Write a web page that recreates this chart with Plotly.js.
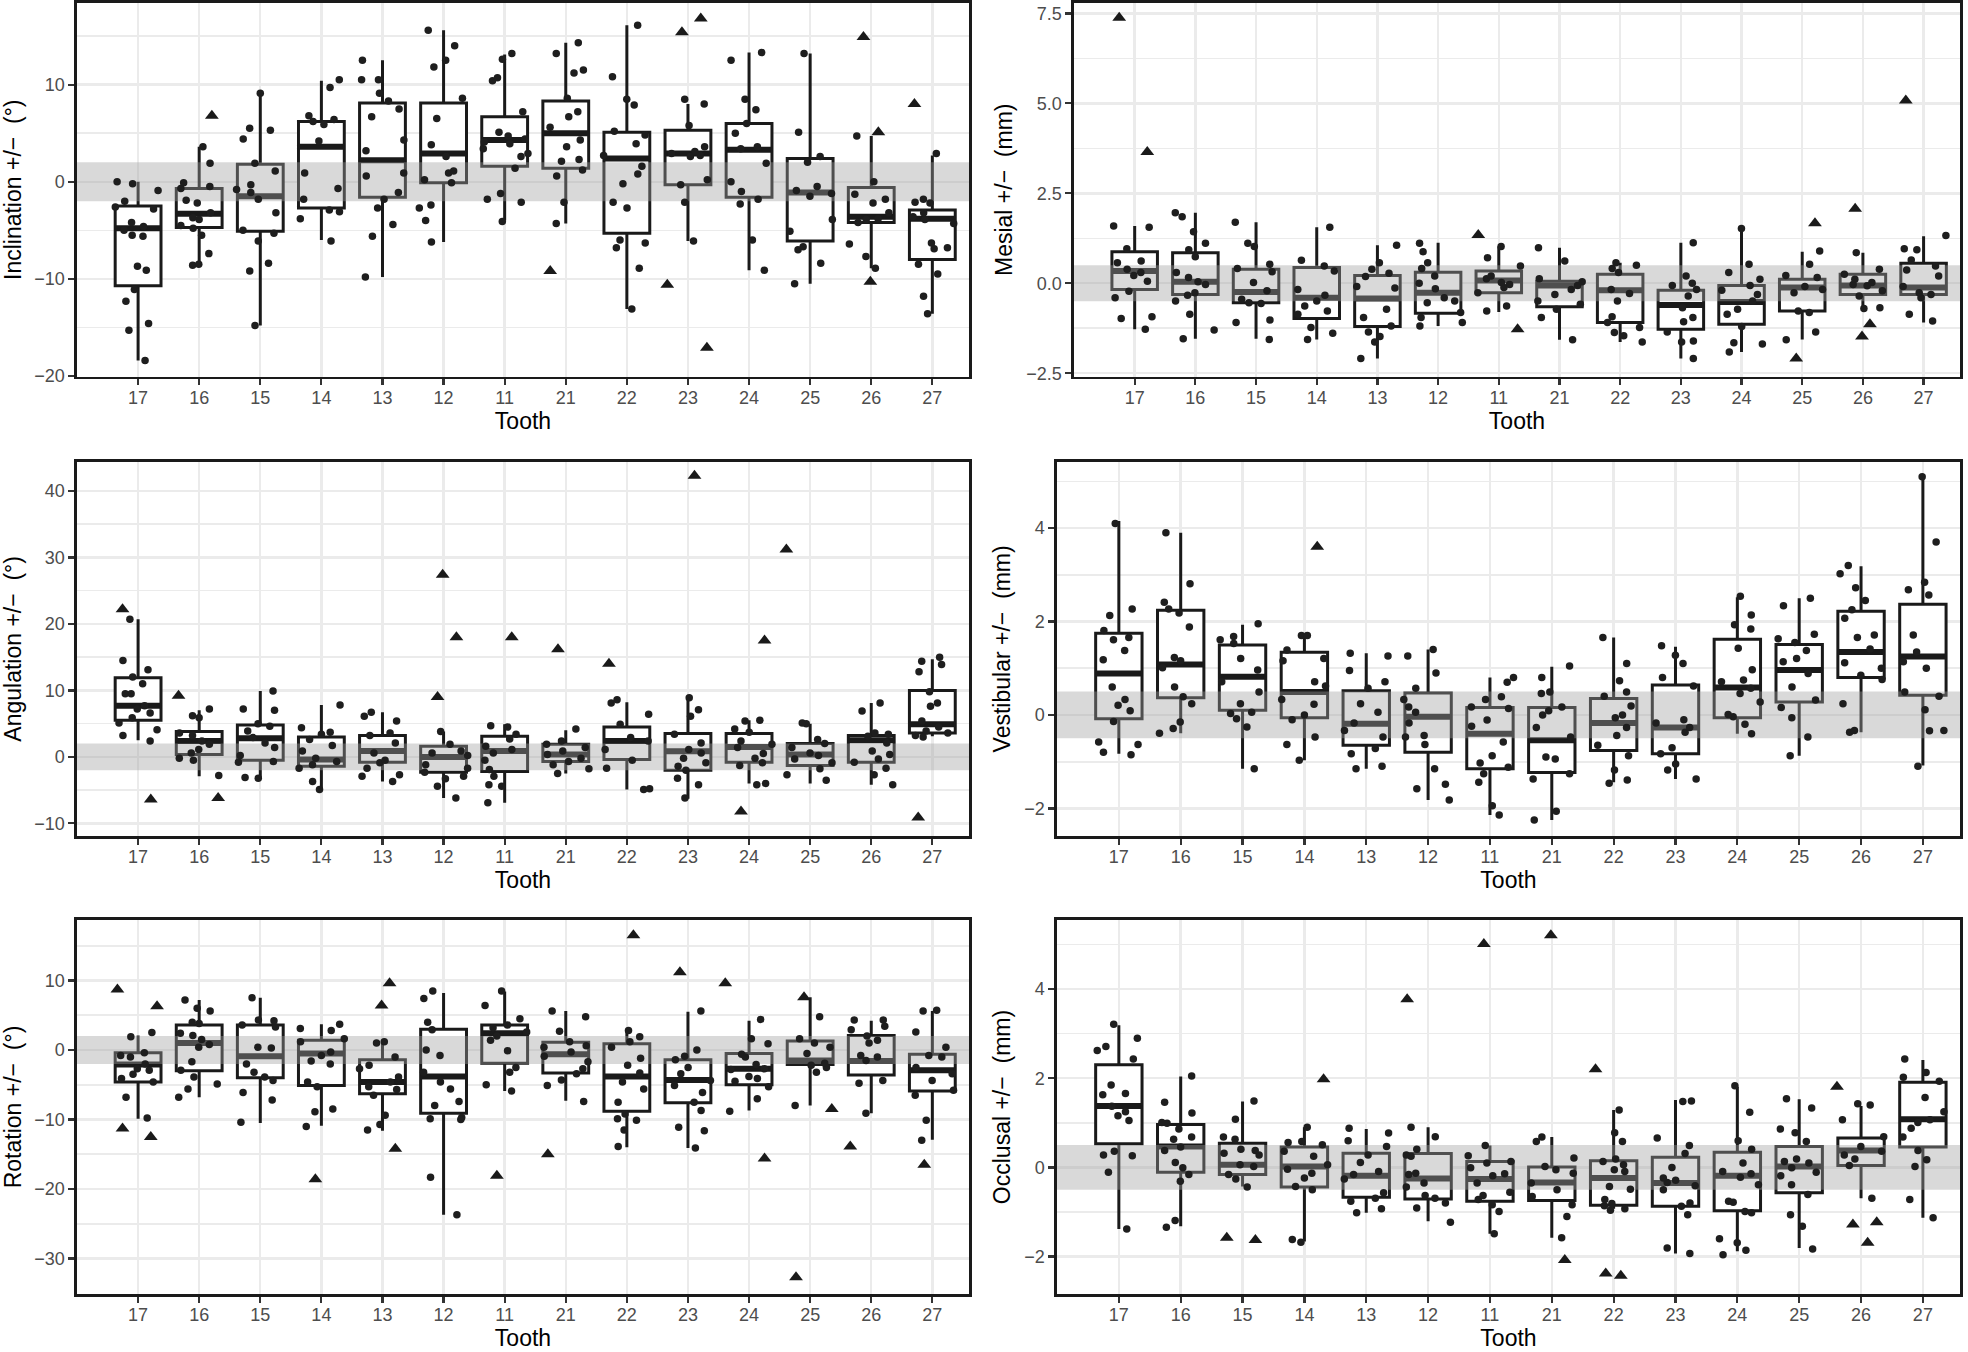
<!DOCTYPE html>
<html>
<head>
<meta charset="utf-8">
<script src="https://cdn.plot.ly/plotly-3.0.1.min.js"></script>
<style>html,body{margin:0;padding:0;background:#fff}#chart{width:1968px;height:1352px}</style>
</head>
<body>
<div id="chart"></div>
<script>
const teeth = ['17','16','15','14','13','12','11','21','22','23','24','25','26','27'];

// ---------- Inclination (°) ----------
const inclinationQ1  = [-10.7,-4.7,-5.1,-2.7,-1.6,-0.1,1.6,1.4,-5.3,-0.3,-1.6,-6.1,-4.2,-8.0];
const inclinationMed = [-4.8,-3.3,-1.5,3.6,2.2,2.9,4.3,5.0,2.4,2.9,3.3,-1.1,-3.6,-3.8];
const inclinationQ3  = [-2.5,-0.7,1.8,6.2,8.1,8.1,6.7,8.3,5.1,5.3,6.0,2.4,-0.6,-2.9];
const inclinationLo  = [-18.4,-8.6,-14.8,-6.0,-9.8,-6.2,-4.0,-4.3,-13.1,-6.1,-9.1,-10.5,-8.9,-13.6];
const inclinationHi  = [0,3.6,9.1,10.4,12.5,15.6,13.1,14.3,16.1,8.0,13.3,13.2,4.7,2.7];
const inclinationPts = [
  [0,-0.2,-0.9,-2.0,-2.6,-2.8,-4.2,-4.6,-5.0,-5.5,-5.6,-8.7,-9.1,-11.1,-12.3,-14.6,-15.3,-18.4],
  [3.6,1.9,-0.1,-0.5,-0.7,-1.9,-2.2,-3.2,-3.7,-3.9,-4.5,-4.8,-5.5,-7.4,-8.5,-8.6],
  [9.1,5.5,5.3,4.4,1.9,1.1,-0.3,-0.8,-1.1,-1.8,-3.2,-5.0,-5.3,-6.1,-8.4,-9.2,-14.8],
  [10.5,9.7,6.8,6.4,6.2,5.9,4.2,0.9,-0.7,-1.8,-2.9,-3.1,-3.8,-6.1],
  [12.5,10.5,10.5,9.1,8.3,7.5,6.7,4.3,3.2,0.9,0.6,-1.1,-1.8,-2.7,-4.4,-5.6,-9.8],
  [15.6,14.0,12.5,11.8,8.6,6.5,3.8,2.6,1.1,0.9,0.2,-0.1,-2.4,-2.7,-4.0,-6.2],
  [13.2,12.6,10.7,10.4,7.2,5.1,4.7,4.4,4.1,3.9,3.4,2.9,2.6,1.4,-1.2,-1.8,-2.1,-4.1],
  [14.3,13.2,11.5,11.2,8.6,7.2,6.7,5.6,4.3,3.6,2.3,2.1,1.2,0.6,-2.1,-4.3],
  [16.1,10.8,8.5,7.9,5.2,4.8,3.9,2.7,1.6,0.8,-0.2,-2.1,-2.7,-6.0,-6.3,-6.8,-8.9,-13.1],
  [8.5,8.0,5.8,3.6,3.1,2.9,2.7,2.6,0.2,-0.3,-2.1,-6.1],
  [13.3,12.5,8.5,7.4,6.0,5.0,3.6,3.4,1.9,0.0,-1.0,-1.8,-2.3,-6.0,-9.1],
  [13.2,5.1,2.6,2.0,-0.5,-0.9,-1.2,-1.5,-3.9,-5.1,-6.7,-7.0,-8.4,-10.5],
  [4.7,0.0,-1.3,-1.8,-2.2,-3.2,-3.8,-3.9,-4.2,-6.4,-7.7,-8.9],
  [2.9,-1.8,-2.1,-2.2,-3.2,-3.6,-3.9,-4.3,-6.3,-6.8,-6.9,-8.5,-9.5,-11.8,-13.6]
];
const inclinationOut = [[],[6.8],[],[],[],[],[],[-9.2],[],[-10.6,-17.1,15.4,16.8],[],[],[14.9,5.1,-10.3],[8.0]];

// ---------- Mesial (mm) ----------
const mesialQ1  = [-0.17,-0.31,-0.54,-0.98,-1.20,-0.83,-0.26,-0.65,-1.09,-1.28,-1.14,-0.77,-0.31,-0.31];
const mesialMed = [0.34,0.04,-0.24,-0.40,-0.42,-0.26,0.08,-0.06,-0.19,-0.60,-0.52,-0.12,-0.06,-0.12];
const mesialQ3  = [0.88,0.85,0.39,0.44,0.22,0.31,0.34,0.06,0.25,-0.19,-0.06,0.11,0.25,0.56];
const mesialLo  = [-1.28,-1.54,-1.54,-1.56,-2.09,-1.19,-0.80,-1.57,-1.63,-2.09,-1.91,-1.56,-0.68,-1.09];
const mesialHi  = [1.59,1.96,1.70,1.56,1.06,1.13,1.02,0.99,0.57,1.13,1.52,0.88,0.85,1.31];
const mesialPts = [
  [1.56,1.59,0.96,0.62,0.57,0.39,0.30,0.22,0.06,-0.22,-0.40,-0.93,-0.98,-1.28],
  [1.96,1.85,1.43,1.11,0.93,0.74,0.30,0.16,0.04,-0.03,-0.26,-0.33,-0.49,-0.86,-1.30,-1.54],
  [1.70,1.11,1.02,0.53,0.41,0.32,0.02,-0.21,-0.44,-0.54,-0.56,-1.02,-1.09,-1.56],
  [1.56,0.64,0.48,0.34,-0.17,-0.33,-0.49,-0.63,-0.77,-0.86,-1.23,-1.39,-1.56],
  [1.06,0.57,0.39,0.28,0.19,-0.09,-0.13,-0.72,-0.95,-1.19,-1.35,-1.48,-1.63,-2.09],
  [1.11,0.88,0.57,0.41,0.20,0.0,-0.15,-0.40,-0.49,-0.54,-0.81,-0.95,-1.09,-1.19],
  [1.02,0.71,0.48,0.20,0.13,0.02,-0.03,-0.12,-0.26,-0.63,-0.77],
  [0.99,0.62,0.13,0.04,-0.06,-0.17,-0.31,-0.49,-0.58,-0.72,-0.95,-1.57],
  [0.57,0.50,0.41,0.30,-0.17,-0.28,-0.49,-0.93,-1.09,-1.23,-1.37,-1.46,-1.63],
  [1.13,0.20,0.0,-0.06,-0.17,-0.35,-0.68,-0.95,-1.07,-1.35,-1.60,-1.63,-2.09],
  [1.52,0.53,0.30,0.11,-0.06,-0.19,-0.31,-0.49,-0.72,-0.86,-1.20,-1.65,-1.69,-1.91],
  [0.90,0.53,0.22,0.16,-0.09,-0.17,-0.26,-0.77,-0.81,-1.35,-1.57],
  [0.85,0.39,0.25,0.11,0.02,-0.03,-0.07,-0.21,-0.35,-0.68,-0.70],
  [1.33,0.96,0.93,0.65,0.48,0.37,0.20,-0.09,-0.26,-0.31,-0.40,-0.86,-1.05]
];
const mesialOut = [[7.38,3.65],[],[],[],[],[],[1.34,-1.28],[],[],[],[],[1.67,-2.09],[2.07,-1.14,-1.48],[5.08]];

// ---------- Angulation (°) ----------
const angulationQ1  = [5.5,0.35,-0.5,-1.4,-0.8,-2.3,-2.2,-0.7,-0.4,-2.0,-0.8,-1.3,-0.8,3.6];
const angulationMed = [7.7,2.4,2.8,-0.4,0.9,0,0.9,0.35,2.4,0.85,1.5,0.35,2.5,4.9];
const angulationQ3  = [11.9,3.8,4.8,3.0,3.2,1.6,3.1,1.9,4.5,3.5,3.5,2.0,3.2,10.0];
const angulationLo  = [2.5,-2.9,-3.2,-4.9,-3.7,-6.2,-6.9,-2.5,-4.9,-6.3,-4.0,-4.0,-4.2,3.1];
const angulationHi  = [20.7,7.0,9.9,7.8,6.7,3.8,4.9,4.0,8.2,8.9,5.5,5.0,8.1,14.7];
const angulationPts = [
  [20.7,14.5,13.1,12.0,11.0,9.5,9.5,7.7,7.2,6.6,5.9,5.1,4.1,3.2,2.4],
  [7.2,6.2,5.9,3.6,3.2,2.4,1.9,1.1,0.6,-0.2,-0.5,-2.8],
  [9.9,7.2,7.0,5.0,4.6,3.9,2.9,2.1,1.4,0.2,-0.7,-0.8,-3.1,-3.2],
  [7.8,4.4,3.7,3.4,2.6,1.7,0.9,-0.2,-0.7,-1.2,-1.7,-3.7,-4.9],
  [6.7,6.1,5.4,3.6,3.2,2.1,0.6,-0.5,-0.9,-1.7,-2.7,-2.9,-3.7],
  [3.8,1.9,0.9,0.6,0.2,-1.2,-1.7,-2.3,-2.9,-3.3,-4.4,-6.2],
  [4.7,4.5,3.4,2.7,1.6,1.1,0.6,-0.5,-1.9,-2.9,-4.2,-4.4,-6.9],
  [4.2,2.4,1.9,1.4,0.9,0.35,-0.2,-0.7,-1.2,-1.8,-2.5],
  [8.6,8.1,6.4,4.9,2.9,2.4,1.1,-0.5,-1.7,-4.8,-4.9],
  [8.9,7.1,6.1,3.4,2.1,1.1,0.6,-0.2,-0.9,-1.4,-2.0,-3.2,-4.2,-6.2],
  [5.5,5.4,4.2,3.7,2.4,1.9,1.4,0.5,-0.2,-0.9,-1.3,-4.0,-4.2],
  [5.0,5.1,2.6,2.0,1.4,0.6,0.2,-0.3,-0.9,-1.8,-2.7,-3.5],
  [8.1,6.9,3.6,3.4,3.1,2.1,0.9,0.35,-0.3,-0.8,-1.7,-2.7,-4.2],
  [15.0,14.4,13.9,12.8,9.8,8.1,7.6,5.4,4.5,3.9,3.6,3.2,3.0]
];
const angulationOut = [[22.2,-6.4],[9.2,-6.2],[],[],[],[27.4,18.0,9.0],[18.0],[16.2],[14.0],[42.3],[17.5,-8.2],[31.2],[],[-9.1]];

// ---------- Vestibular (mm) ----------
const vestibularQ1  = [-0.08,0.37,0.10,-0.06,-0.65,-0.80,-1.15,-1.23,-0.76,-0.83,-0.06,0.28,0.80,0.42];
const vestibularMed = [0.89,1.08,0.82,0.49,-0.19,-0.04,-0.40,-0.54,-0.17,-0.27,0.59,0.96,1.35,1.25];
const vestibularQ3  = [1.75,2.24,1.50,1.34,0.52,0.47,0.16,0.16,0.35,0.64,1.62,1.51,2.22,2.37];
const vestibularLo  = [-0.83,-0.39,-1.15,-0.97,-1.15,-1.82,-2.14,-2.25,-1.44,-1.37,-0.40,-0.87,-0.37,-1.08];
const vestibularHi  = [4.15,3.90,1.93,1.68,1.32,1.40,0.80,1.03,1.66,1.46,2.52,2.50,3.18,5.08];
const vestibularPts = [
  [4.1,2.27,2.13,1.81,1.66,1.61,1.38,1.18,0.60,0.33,0.21,0.09,-0.14,-0.58,-0.63,-0.80,-0.85],
  [3.9,2.81,2.41,2.27,2.18,1.88,1.23,1.16,1.01,0.60,0.39,0.24,-0.15,-0.29,-0.39],
  [1.95,1.68,1.61,1.53,1.21,0.96,0.71,0.49,0.24,0.06,0.03,-0.08,-0.26,-1.15],
  [1.70,1.70,1.39,1.21,1.16,0.71,0.62,0.33,0.23,0.0,-0.10,-0.47,-0.63,-0.97],
  [1.32,1.26,0.95,0.71,0.57,0.24,0.06,-0.17,-0.33,-0.47,-0.72,-0.83,-1.10,-1.15],
  [1.40,1.26,0.90,0.57,0.33,0.17,0.06,-0.17,-0.44,-0.47,-0.63,-1.15,-1.48,-1.58,-1.82],
  [0.80,0.70,0.39,0.33,0.17,0.14,-0.11,-0.24,-0.58,-0.87,-1.03,-1.12,-1.26,-1.44,-1.94,-2.14],
  [1.05,0.80,0.49,0.46,0.17,0.09,0.0,-0.27,-0.47,-0.90,-0.94,-1.26,-1.37,-2.06,-2.25],
  [1.66,1.10,0.73,0.49,0.40,0.19,0.0,-0.06,-0.27,-0.44,-0.65,-0.87,-1.18,-1.39,-1.46],
  [1.48,1.28,1.10,0.80,0.62,-0.10,-0.17,-0.27,-0.37,-0.70,-0.83,-1.05,-1.18,-1.37],
  [2.54,2.14,1.93,1.84,1.43,0.97,0.75,0.71,0.57,0.46,0.28,0.01,-0.04,-0.20,-0.40],
  [2.50,2.34,1.73,1.63,1.55,1.38,1.21,1.14,0.89,0.60,0.32,0.16,-0.06,-0.47,-0.87],
  [3.20,3.02,2.72,2.45,2.25,2.07,1.71,1.66,1.41,1.12,1.00,0.85,0.76,0.24,-0.33,-0.37],
  [5.10,3.70,2.84,2.68,2.57,1.71,1.35,1.14,1.00,0.49,0.40,0.11,-0.33,-0.34,-1.10]
];
const vestibularOut = [[],[],[],[3.60],[],[],[],[],[],[],[],[],[],[]];

// ---------- Rotation (°) ----------
const rotationQ1  = [-4.6,-3.0,-4.0,-5.1,-6.3,-9.1,-1.9,-3.3,-8.8,-7.6,-5.0,-2.1,-3.6,-5.9];
const rotationMed = [-2.1,1.0,-0.9,-0.5,-4.6,-3.8,2.4,-0.6,-3.8,-4.3,-2.7,-1.5,-1.6,-2.9];
const rotationQ3  = [-0.4,3.6,3.6,1.4,-1.4,3.0,3.6,1.1,0.9,-1.4,-0.5,1.3,2.1,-0.6];
const rotationLo  = [-9.9,-6.8,-10.5,-10.9,-11.6,-23.7,-5.9,-7.3,-14.0,-14.1,-8.7,-8.0,-9.1,-12.9];
const rotationHi  = [2.1,7.2,7.5,3.7,1.2,8.2,8.4,5.6,2.9,5.5,4.2,7.6,4.2,5.6];
const rotationPts = [
  [2.5,1.9,-0.4,-0.8,-1.0,-2.0,-2.7,-2.9,-3.5,-4.1,-4.6,-6.8,-9.8],
  [7.2,6.0,5.6,4.0,3.8,2.4,2.1,1.5,0.8,0.4,-1.7,-2.9,-3.9,-4.9,-5.6,-6.8],
  [7.5,4.3,4.2,3.6,3.3,0.4,0.3,-2.0,-3.2,-3.9,-4.4,-6.1,-7.2,-10.4],
  [3.7,3.1,2.8,1.6,1.2,-0.3,-0.8,-1.6,-2.0,-4.6,-5.3,-8.5,-8.9,-11.0],
  [1.2,1.0,-1.0,-2.2,-2.7,-3.9,-4.6,-5.3,-5.7,-6.5,-9.4,-10.7,-11.5],
  [8.5,7.4,4.0,2.9,0.0,-0.8,-3.2,-4.6,-5.6,-7.4,-8.0,-9.7,-9.9,-10.0,-18.3,-23.7],
  [8.5,6.4,4.5,3.6,3.2,2.6,2.0,1.4,-0.1,-2.5,-3.2,-5.0,-5.9],
  [5.6,4.8,2.7,1.2,0.6,0.4,-0.3,-0.9,-1.7,-2.7,-3.4,-4.3,-5.1,-7.4],
  [2.8,1.9,1.2,0.4,-1.2,-2.2,-3.3,-4.6,-5.6,-7.5,-9.2,-9.9,-10.1,-11.5,-13.9],
  [5.6,0.0,-0.9,-1.4,-2.5,-3.4,-4.4,-5.1,-6.1,-7.5,-8.7,-11.1,-11.6,-14.1],
  [4.4,1.6,0.9,-0.6,-1.0,-2.1,-2.7,-2.8,-3.8,-4.1,-4.5,-5.3,-7.0,-8.8],
  [4.8,1.6,1.0,0.4,-0.5,-1.9,-2.2,-2.5,-3.2,-8.0],
  [4.3,4.3,3.4,2.9,2.0,1.4,1.0,-0.8,-1.0,-1.5,-4.4,-4.8,-9.1],
  [5.7,5.6,2.6,0.4,-0.8,-1.0,-2.5,-3.4,-4.4,-5.8,-6.5,-10.1,-13.0]
];
const rotationOut = [[6.3,8.7,-12.5,-11.3],[],[],[-18.6],[9.6,6.4,-14.2],[],[-18.1],[-15.0],[16.5],[11.2],[9.6,-15.6],[7.6,-8.5,-32.7],[-13.9],[-16.5]];

// ---------- Occlusal (mm) ----------
const occlusalQ1  = [0.53,-0.11,-0.16,-0.44,-0.67,-0.71,-0.76,-0.74,-0.85,-0.87,-0.97,-0.57,0.04,0.46];
const occlusalMed = [1.38,0.47,0.06,0.02,-0.19,-0.25,-0.26,-0.34,-0.24,-0.35,-0.19,0.02,0.38,1.08];
const occlusalQ3  = [2.30,0.96,0.54,0.46,0.32,0.31,0.13,0.01,0.15,0.23,0.34,0.47,0.66,1.91];
const occlusalLo  = [-1.38,-1.32,-0.43,-1.66,-1.02,-1.21,-1.49,-1.58,-0.93,-1.93,-1.88,-1.81,-0.69,-1.13];
const occlusalHi  = [3.19,2.04,1.48,0.90,0.86,0.90,0.49,0.68,1.29,1.51,1.81,1.53,1.38,2.41];
const occlusalPts = [
  [3.21,2.90,2.71,2.62,2.43,1.85,1.66,1.63,1.37,1.25,1.16,1.05,0.36,0.28,0.26,-0.11,-1.38],
  [2.05,1.46,1.22,1.01,0.99,0.86,0.68,0.63,0.46,0.38,0.11,-0.01,-0.16,-0.31,-1.19,-1.34],
  [1.49,1.08,0.68,0.63,0.41,0.38,0.32,0.28,0.06,0.02,-0.16,-0.26,-0.44],
  [0.90,0.58,0.56,0.51,0.36,0.25,0.06,-0.04,-0.13,-0.24,-0.43,-0.50,-1.62,-1.68],
  [0.88,0.77,0.60,0.47,0.28,0.11,-0.09,-0.16,-0.26,-0.57,-0.69,-0.76,-0.93,-1.02],
  [0.90,0.69,0.41,0.28,0.25,-0.13,-0.16,-0.35,-0.44,-0.63,-0.69,-0.80,-0.91,-1.23],
  [0.49,0.26,0.13,0.10,-0.01,-0.14,-0.19,-0.35,-0.56,-0.63,-0.72,-0.84,-0.99,-1.49],
  [0.68,0.58,0.21,0.02,-0.05,-0.13,-0.35,-0.50,-0.65,-0.84,-1.10,-1.58],
  [1.29,0.78,0.58,0.19,0.13,0.06,-0.05,-0.09,-0.43,-0.49,-0.72,-0.81,-0.86,-0.93,-0.96],
  [1.49,1.48,0.66,0.49,0.31,0.0,-0.24,-0.29,-0.34,-0.41,-0.50,-0.80,-0.87,-1.06,-1.81,-1.93],
  [1.83,1.24,0.60,0.41,0.10,-0.09,-0.14,-0.22,-0.39,-0.76,-0.78,-0.99,-1.02,-1.60,-1.69,-1.86,-1.96],
  [1.54,1.33,0.86,0.78,0.58,0.19,0.13,0.10,-0.01,-0.11,-0.19,-0.39,-0.61,-1.06,-1.32,-1.83],
  [1.43,1.40,1.07,0.69,0.47,0.36,0.28,0.19,0.04,-0.69],
  [2.43,2.13,2.02,1.93,1.57,1.25,1.07,1.01,0.88,0.68,0.38,0.17,0.02,-0.72,-1.13]
];
const occlusalOut = [[],[],[-1.58,-1.63],[1.98],[],[3.77],[5.01],[5.21,-2.08],[2.20,-2.43,-2.38],[],[],[],[1.81,-1.23,-1.69,-1.28],[]];

// ---------- panel configuration (layout / style) ----------
const W = 1968, H = 1352;
const FONT = '"Liberation Sans", Arial, Helvetica, sans-serif';
const XR = [-1, 13.6];
const panels = [
  {title:'Inclination +/−\u00a0 (°)', q1:inclinationQ1, med:inclinationMed, q3:inclinationQ3, lo:inclinationLo, hi:inclinationHi, pts:inclinationPts, out:inclinationOut,
   band:2, range:[-20.05,18.4], dtick:10, minor:5, fmt:'', box:{l:77,r:969,t:3,b:376.5}},
  {title:'Mesial +/−\u00a0 (mm)', q1:mesialQ1, med:mesialMed, q3:mesialQ3, lo:mesialLo, hi:mesialHi, pts:mesialPts, out:mesialOut,
   band:0.5, range:[-2.59,7.79], dtick:2.5, minor:1.25, fmt:'.1f', box:{l:1074,r:1960,t:3,b:376.5}},
  {title:'Angulation +/−\u00a0 (°)', q1:angulationQ1, med:angulationMed, q3:angulationQ3, lo:angulationLo, hi:angulationHi, pts:angulationPts, out:angulationOut,
   band:2, range:[-11.9,44.4], dtick:10, minor:5, fmt:'', box:{l:77,r:969,t:461.7,b:836}},
  {title:'Vestibular +/−\u00a0 (mm)', q1:vestibularQ1, med:vestibularMed, q3:vestibularQ3, lo:vestibularLo, hi:vestibularHi, pts:vestibularPts, out:vestibularOut,
   band:0.5, range:[-2.59,5.42], dtick:2, minor:1, fmt:'', box:{l:1057,r:1960,t:461.7,b:836}},
  {title:'Rotation +/−\u00a0 (°)', q1:rotationQ1, med:rotationMed, q3:rotationQ3, lo:rotationLo, hi:rotationHi, pts:rotationPts, out:rotationOut,
   band:2, range:[-35.1,18.7], dtick:10, minor:5, fmt:'', box:{l:77,r:969,t:920,b:1294}},
  {title:'Occlusal +/−\u00a0 (mm)', q1:occlusalQ1, med:occlusalMed, q3:occlusalQ3, lo:occlusalLo, hi:occlusalHi, pts:occlusalPts, out:occlusalOut,
   band:0.5, range:[-2.84,5.55], dtick:2, minor:1, fmt:'', box:{l:1057,r:1960,t:920,b:1294}}
];

const GRID = '#ebebeb', INK = '#1a1a1a', BAND = 'rgba(160,160,160,0.4)';
const idx = teeth.map((t, i) => i);
const traces = [];
const layout = {
  width: W, height: H, margin: {l:0, r:0, t:0, b:0},
  paper_bgcolor: '#ffffff', plot_bgcolor: '#ffffff',
  showlegend: false, hovermode: false, boxmode: 'overlay',
  font: {family: FONT, color: '#000'}
};

function flatten(groups) {
  const xs = [], ys = [];
  groups.forEach((arr, i) => arr.forEach(v => { xs.push(i); ys.push(v); }));
  return {xs, ys};
}

panels.forEach((p, k) => {
  const n = k + 1, m = k + 7;
  const xa = n === 1 ? 'x' : 'x' + n, ya = n === 1 ? 'y' : 'y' + n;
  const xo = 'x' + m, yo = 'y' + m;
  const dx = [p.box.l / W, p.box.r / W];
  const dy = [1 - p.box.b / H, 1 - p.box.t / H];

  // boxes
  traces.push({type:'box', orientation:'v', x: idx, q1: p.q1, median: p.med, q3: p.q3,
    lowerfence: p.lo, upperfence: p.hi, xaxis: xa, yaxis: ya, width: 0.75,
    fillcolor: '#ffffff', line: {color: INK, width: 3}, whiskerwidth: 0,
    boxpoints: false, hoverinfo: 'skip'});
  // thick median bars
  traces.push({type:'box', orientation:'v', x: idx, q1: p.med, median: p.med, q3: p.med,
    lowerfence: p.med, upperfence: p.med, xaxis: xa, yaxis: ya, width: 0.75,
    fillcolor: 'rgba(0,0,0,0)', line: {color: INK, width: 6}, whiskerwidth: 0,
    boxpoints: false, hoverinfo: 'skip'});
  // tolerance band (drawn over the boxes)
  traces.push({type:'scatter', mode:'lines', x: [XR[0], XR[1], XR[1], XR[0], XR[0]],
    y: [-p.band, -p.band, p.band, p.band, -p.band], fill: 'toself', fillcolor: BAND,
    line: {width: 0, color: 'rgba(0,0,0,0)'}, xaxis: xa, yaxis: ya, hoverinfo: 'skip'});

  // jittered points (overlay subplot, above band)
  const P = flatten(p.pts);
  traces.push({type:'box', orientation:'v', x: P.xs, y: P.ys, xaxis: xo, yaxis: yo,
    boxpoints: 'all', jitter: 1, pointpos: 0, width: 0.8,
    fillcolor: 'rgba(0,0,0,0)', line: {width: 0, color: 'rgba(0,0,0,0)'},
    marker: {color: '#1e1e1e', size: 7.5, line: {width: 0}}, hoverinfo: 'skip'});
  const O = flatten(p.out);
  if (O.ys.length) {
    traces.push({type:'box', orientation:'v', x: O.xs, y: O.ys, xaxis: xo, yaxis: yo,
      boxpoints: 'all', jitter: 1, pointpos: 0, width: 0.8,
      fillcolor: 'rgba(0,0,0,0)', line: {width: 0, color: 'rgba(0,0,0,0)'},
      marker: {color: INK, size: 12, symbol: 'triangle-up', line: {width: 0}}, hoverinfo: 'skip'});
  }

  const xKey = n === 1 ? 'xaxis' : 'xaxis' + n;
  const yKey = n === 1 ? 'yaxis' : 'yaxis' + n;
  layout[xKey] = {
    domain: dx, anchor: ya, range: XR, fixedrange: true,
    tickmode: 'array', tickvals: idx, ticktext: teeth,
    showgrid: true, gridcolor: GRID, gridwidth: 2.4, zeroline: false,
    showline: true, mirror: true, linecolor: INK, linewidth: 2.6,
    ticks: 'outside', ticklen: 6, tickwidth: 2.2, tickcolor: '#333333',
    ticklabelstandoff: -3,
    tickfont: {size: 18, color: '#4d4d4d', family: FONT},
    title: {text: 'Tooth', font: {size: 23, color: '#000', family: FONT}, standoff: 6}
  };
  layout[yKey] = {
    domain: dy, anchor: xa, range: p.range, fixedrange: true,
    tick0: 0, dtick: p.dtick, tickformat: p.fmt,
    showgrid: true, gridcolor: GRID, gridwidth: 2.4, zeroline: false,
    minor: {tick0: 0, dtick: p.minor, showgrid: true, gridcolor: GRID, gridwidth: 1.6, ticks: ''},
    showline: true, mirror: true, linecolor: INK, linewidth: 2.6,
    ticks: 'outside', ticklen: 6, tickwidth: 2.2, tickcolor: '#333333',
    tickfont: {size: 18, color: '#4d4d4d', family: FONT},
    title: {text: p.title, font: {size: 23, color: '#000', family: FONT}, standoff: 8}
  };
  layout['xaxis' + m] = {overlaying: xa, domain: dx, anchor: yo, range: XR, visible: false, fixedrange: true};
  layout['yaxis' + m] = {overlaying: ya, domain: dy, anchor: xo, range: p.range, visible: false, fixedrange: true};
});

Plotly.newPlot('chart', traces, layout, {staticPlot: true, displayModeBar: false});
</script>
</body>
</html>
